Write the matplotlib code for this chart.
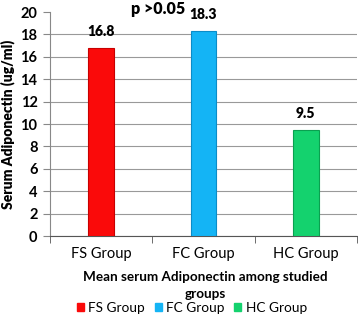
import matplotlib.pyplot as plt
from matplotlib.patches import Patch

groups = ["FS Group", "FC Group", "HC Group"]
values = [16.8, 18.3, 9.5]
colors = ["#FA0A0A", "#14B4F5", "#14D26E"]
edges = ["#C80000", "#0A8CC8", "#0AA050"]
yticks = list(range(0, 21, 2))

plt.rcParams['font.family'] = ['Lato', 'DejaVu Sans']

fig = plt.figure(figsize=(3.58, 3.17), dpi=100)
ax = fig.add_axes([50 / 358, 1 - 236 / 317, 307 / 358, 224 / 317])

x = list(range(len(groups)))
ax.bar(x, values, width=0.25, color=colors, edgecolor=edges, linewidth=0.8, zorder=3)
for xi, v in zip(x, values):
    ax.text(xi, v + 0.9, f"{v}", ha="center", va="bottom", fontsize=10, fontweight="heavy")

ax.set_xlim(-0.5, 2.5)
ax.set_ylim(0, 20)
ax.set_yticks(yticks)
ax.set_yticklabels([str(t) for t in yticks], fontweight="bold")
ax.set_xticks(x)
ax.set_xticklabels(groups, fontsize=10.5)
ax.tick_params(axis="y", labelsize=10.5, length=5, color="#888888", pad=4)
ax.set_xticks([-0.5, 0.5, 1.5, 2.5], minor=True)
ax.tick_params(axis="x", which="major", length=0, pad=8)
ax.tick_params(axis="x", which="minor", length=5, color="#555555")
ax.grid(axis="y", color="#999999", linewidth=0.8, zorder=0)
ax.yaxis.get_gridlines()[-1].set_visible(False)
for s in ["top", "right"]:
    ax.spines[s].set_visible(False)
ax.spines["left"].set_color("#888888")
ax.spines["bottom"].set_color("#555555")

ax.set_ylabel("Serum Adiponectin (ug/ml)", fontsize=10, fontweight="heavy", labelpad=4)
ax.set_xlabel("Mean serum Adiponectin among studied\ngroups", fontsize=9.7,
              fontweight="bold", labelpad=7, linespacing=1.5)
ax.xaxis.label.set_x((205 - 50) / 307)

fig.text(158 / 358, 1 - 9 / 317, "p >0.05", ha="center", va="center",
         fontsize=11.5, fontweight="heavy")

handles = [Patch(color=c) for c in colors]
fig.legend(handles, groups, loc="center", bbox_to_anchor=(192 / 358, 1 - 308 / 317),
           ncol=3, frameon=False, fontsize=9.8, handlelength=0.5, handleheight=0.5,
           handletextpad=0.35, columnspacing=0.7, borderpad=0)

fig.savefig("out.png", dpi=100)
